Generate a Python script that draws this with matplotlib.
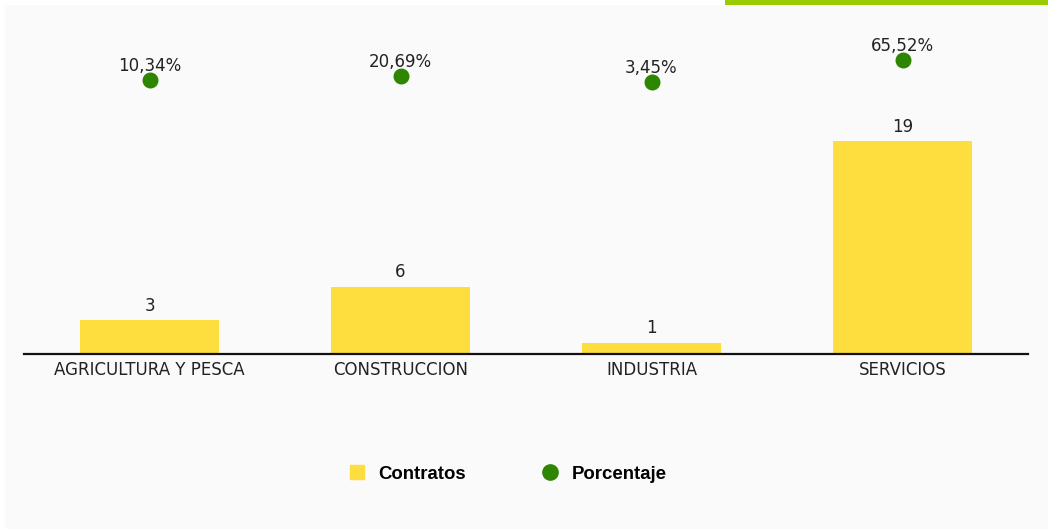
import numpy as np
import matplotlib.pyplot as plt
from matplotlib.patches import Rectangle
from matplotlib.lines import Line2D

categorias = ['AGRICULTURA Y PESCA', 'CONSTRUCCION', 'INDUSTRIA', 'SERVICIOS']
contratos = [3, 6, 1, 19]
porcentaje = [10.34, 20.69, 3.45, 65.52]
etiquetas_pct = ['10,34%', '20,69%', '3,45%', '65,52%']

amarillo = '#FEDD3F'
verde = '#2E8500'

W, H = 1048, 529
fig = plt.figure(figsize=(W / 100, H / 100), dpi=100)
fig.patch.set_facecolor('white')
plt.rcParams['font.family'] = 'DejaVu Sans'

# fondo gris claro y franja verde superior
fig.add_artist(Rectangle((5 / W, 0), 1 - 5 / W, 1 - 5 / H, transform=fig.transFigure,
                         facecolor='#FAFAFA', edgecolor='none', zorder=-2))
fig.add_artist(Rectangle((725 / W, 1 - 5 / H), 1 - 725 / W, 5 / H, transform=fig.transFigure,
                         facecolor='#99CC00', edgecolor='none', zorder=-1))

y_base = 354
y_top = 10
ax = fig.add_axes([24 / W, (H - y_base) / H, 1004 / W, (y_base - y_top) / H])
ax.set_facecolor('none')

x = np.arange(len(categorias))
ax.bar(x, contratos, width=0.55, color=amarillo, zorder=2)
ax.set_xlim(-0.5, len(categorias) - 0.5)
px_unit = 11.2
ax.set_ylim(0, (y_base - y_top) / px_unit)

for xi, v in zip(x, contratos):
    ax.annotate(str(v), (xi, v), xytext=(0, 4), textcoords='offset points',
                ha='center', va='bottom', fontsize=12, color='#222222')

ax.set_xticks(x)
ax.set_xticklabels(categorias, fontsize=12, color='#222222')
ax.tick_params(axis='x', length=0, pad=5)
ax.set_yticks([])
for s in ['top', 'right', 'left']:
    ax.spines[s].set_visible(False)
ax.spines['bottom'].set_linewidth(1.6)
ax.spines['bottom'].set_color('#111111')

# eje secundario para porcentaje
ax2 = ax.twinx()
ax2.set_facecolor('none')
pct_px = 0.354
y_zero = 83.2
ax2.set_ylim(-(y_base - y_zero) / pct_px, (y_zero - y_top) / pct_px)
ax2.scatter(x, porcentaje, s=110, color=verde, zorder=3)
for xi, v, t in zip(x, porcentaje, etiquetas_pct):
    ax2.annotate(t, (xi, v), xytext=(0, 3.5), textcoords='offset points',
                 ha='center', va='bottom', fontsize=12, color='#222222')
ax2.set_yticks([])
for s in ax2.spines.values():
    s.set_visible(False)

handles = [
    Line2D([], [], marker='s', linestyle='none', markersize=10, color=amarillo),
    Line2D([], [], marker='o', linestyle='none', markersize=11, color=verde),
]
fig.legend(handles, ['Contratos', 'Porcentaje'], loc='center', bbox_to_anchor=(507 / W, 1 - 474 / H),
           ncol=2, frameon=False, columnspacing=4.0, handlelength=1.0, handletextpad=0.68,
           prop={'family': 'Liberation Sans', 'weight': 'bold', 'size': 13.4})

fig.savefig('out.png', dpi=100, facecolor=fig.get_facecolor())
